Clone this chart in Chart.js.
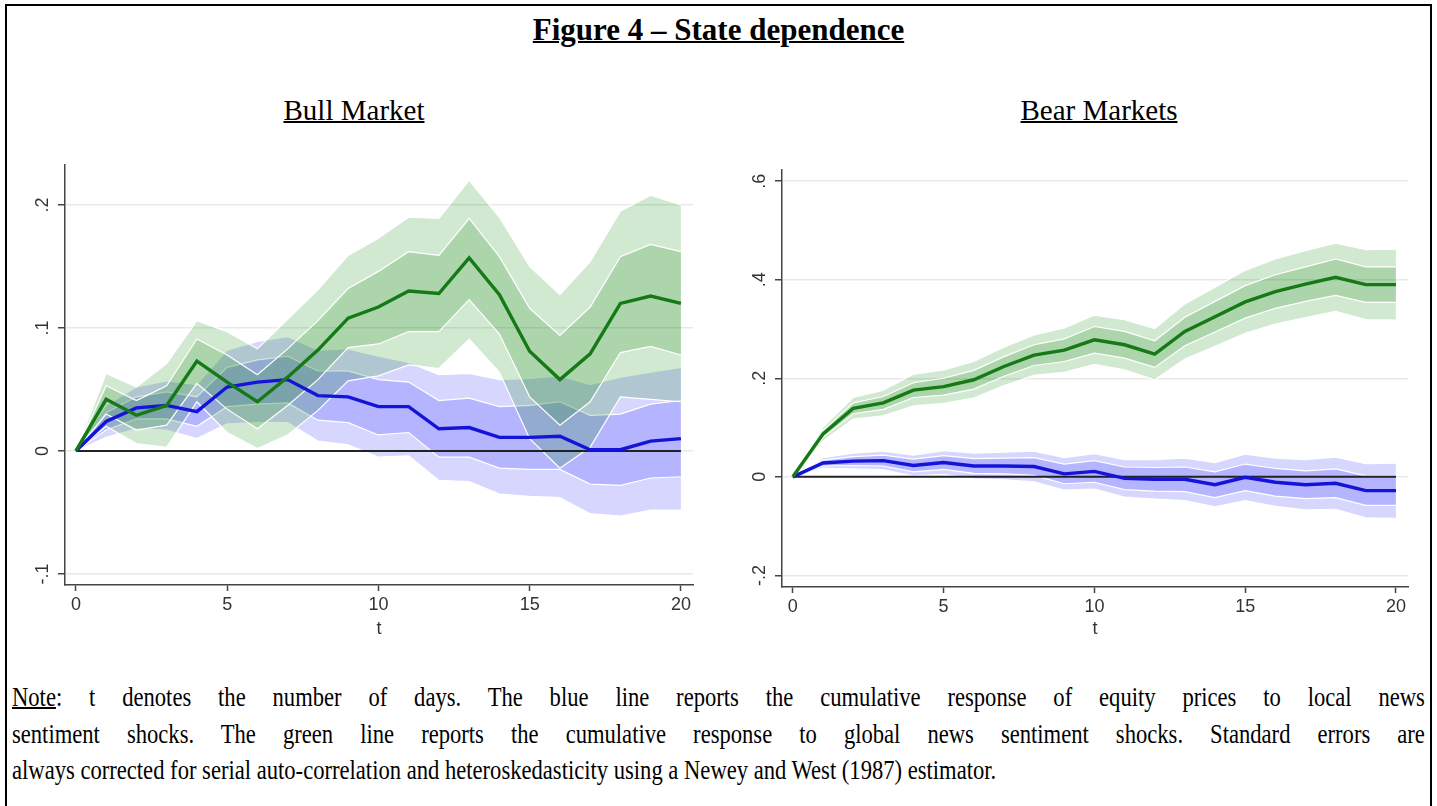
<!DOCTYPE html>
<html>
<head>
    <title>Figure 4 - State dependence</title>
    <style>
        body {
            margin: 0;
            width: 1437px;
            height: 806px;
            overflow: hidden;
            background: #fff;
            position: relative;
            font-family: 'Liberation Serif', 'Times New Roman', serif;
            color: #000;
        }
        .frame {
            position: absolute;
            left: 5px;
            top: 4px;
            width: 1423px;
            height: 900px;
            border: 2.5px solid #000;
        }
        .title {
            position: absolute;
            left: 0;
            width: 1437px;
            top: 14px;
            line-height: 31px;
            text-align: center;
            font-size: 31px;
            font-weight: bold;
            text-decoration: underline;
            text-decoration-thickness: 2px;
        }
        .sub {
            position: absolute;
            top: 96px;
            line-height: 29px;
            font-size: 29px;
            text-decoration: underline;
            text-decoration-thickness: 1.5px;
            transform: translateX(-50%);
            white-space: nowrap;
        }
        .chart-box {
            position: absolute;
            top: 150px;
        }
        /* the note is set in a narrow serif: scale a wider box down horizontally */
        .note {
            position: absolute;
            left: 12px;
            top: 679px;
            width: 1688px;
            font-size: 27px;
            line-height: 36.5px;
            transform: scaleX(0.837);
            transform-origin: 0 0;
        }
        .note div { white-space: nowrap; }
        .note .just {
            white-space: normal;
            text-align: justify;
            text-align-last: justify;
        }
        .note u { text-decoration-thickness: 1.5px; }
    </style>
    <script src="https://cdn.jsdelivr.net/npm/chart.js"></script>
</head>
<body>
    <div class="frame"></div>
    <div class="title">Figure 4 – State dependence</div>
    <div class="sub" style="left:354px">Bull Market</div>
    <div class="sub" style="left:1099px">Bear Markets</div>

    <div class="chart-box" style="left:20px">
        <canvas id="bull" width="680" height="490"></canvas>
    </div>
    <div class="chart-box" style="left:737px">
        <canvas id="bear" width="678" height="490"></canvas>
    </div>

    <div class="note">
        <div class="just"><u>Note</u>: t denotes the number of days. The blue line reports the cumulative response of equity prices to local news</div>
        <div class="just">sentiment shocks. The green line reports the cumulative response to global news sentiment shocks. Standard errors are</div>
        <div>always corrected for serial auto-correlation and heteroskedasticity using a Newey and West (1987) estimator.</div>
    </div>

    <script>
        // horizon in days
        const t = [0, 1, 2, 3, 4, 5, 6, 7, 8, 9, 10, 11, 12, 13, 14, 15, 16, 17, 18, 19, 20];
        const xTicks = [0, 5, 10, 15, 20];

        // Bull market: local news (blue) response and bands
        const bullLocal      = [0, .024, .035, .037, .032, .052, .056, .058, .045, .044, .036, .036, .018, .019, .011, .011, .012, .001, .001, .008, .010];
        const bullLocalInHi  = [0, .031, .044, .048, .044, .068, .074, .077, .065, .065, .058, .056, .041, .043, .036, .037, .040, .029, .030, .038, .041];
        const bullLocalInLo  = [0, .017, .026, .026, .020, .036, .038, .039, .025, .023, .013, .015, -.005, -.005, -.014, -.015, -.015, -.027, -.028, -.022, -.021];
        const bullLocalOutHi = [0, .037, .052, .057, .054, .082, .089, .093, .082, .083, .077, .072, .062, .063, .058, .059, .061, .054, .060, .064, .068];
        const bullLocalOutLo = [0, .011, .018, .017, .010, .022, .023, .023, .008, .005, -.005, -.004, -.024, -.025, -.035, -.037, -.038, -.051, -.053, -.048, -.048];

        // Bull market: global news (green) response and bands
        const bullGlobal      = [0, .042, .029, .037, .073, .056, .040, .060, .082, .108, .117, .130, .128, .157, .127, .081, .058, .079, .120, .126, .120];
        const bullGlobalInHi  = [0, .053, .041, .053, .091, .078, .062, .083, .106, .132, .146, .162, .159, .189, .158, .116, .094, .117, .158, .168, .162];
        const bullGlobalInLo  = [0, .030, .017, .021, .055, .034, .018, .037, .058, .084, .087, .097, .097, .123, .095, .044, .021, .040, .080, .085, .078];
        const bullGlobalOutHi = [0, .063, .052, .071, .106, .097, .083, .107, .131, .159, .173, .190, .189, .220, .190, .150, .127, .154, .195, .208, .200];
        const bullGlobalOutLo = [0, .020, .006, .003, .040, .015, .002, .013, .033, .057, .061, .070, .067, .091, .064, .010, -.014, .003, .044, .042, .040];

        // Bear markets: local news (blue)
        const bearLocal      = [0, .028, .032, .033, .023, .029, .022, .022, .021, .006, .011, -.003, -.005, -.005, -.016, -.001, -.011, -.016, -.013, -.028, -.028];
        const bearLocalInHi  = [0, .034, .041, .044, .036, .043, .037, .038, .039, .026, .033, .020, .019, .020, .010, .026, .017, .012, .016, .002, .002];
        const bearLocalInLo  = [0, .022, .023, .022, .010, .015, .007, .006, .003, -.014, -.011, -.026, -.029, -.030, -.042, -.028, -.039, -.044, -.042, -.058, -.058];
        const bearLocalOutHi = [0, .039, .048, .052, .044, .053, .048, .050, .052, .039, .047, .035, .035, .038, .029, .046, .038, .035, .040, .027, .028];
        const bearLocalOutLo = [0, .017, .016, .014, .002, .005, -.004, -.006, -.010, -.027, -.025, -.041, -.045, -.048, -.061, -.048, -.060, -.067, -.066, -.083, -.084];

        // Bear markets: global news (green)
        const bearGlobal      = [0, .087, .139, .150, .176, .183, .197, .224, .247, .257, .278, .268, .249, .295, .325, .355, .376, .391, .405, .390, .390];
        const bearGlobalInHi  = [0, .094, .150, .163, .191, .200, .216, .244, .268, .280, .305, .295, .276, .324, .356, .388, .410, .426, .442, .426, .426];
        const bearGlobalInLo  = [0, .080, .128, .137, .161, .166, .178, .204, .226, .234, .251, .241, .222, .266, .294, .322, .342, .356, .368, .354, .354];
        const bearGlobalOutHi = [0, .101, .161, .176, .208, .217, .234, .263, .288, .302, .328, .319, .301, .351, .385, .419, .442, .459, .474, .461, .462];
        const bearGlobalOutLo = [0, .073, .117, .124, .144, .149, .160, .185, .206, .212, .228, .217, .197, .239, .265, .291, .310, .323, .336, .319, .318];

        const bullYTicks = [-.1, 0, .1, .2];
        const bearYTicks = [-.2, 0, .2, .4, .6];

        const GREEN = '#157a15';
        const BLUE = '#1414d8';
        const GREEN_FILL = 'rgba(0, 128, 0, 0.18)';
        const BLUE_FILL = 'rgba(0, 0, 255, 0.16)';
        const AXIS = '#444';

        Chart.defaults.font.family = "'Liberation Sans', Arial, sans-serif";
        Chart.defaults.color = '#333';

        function pts(arr) {
            return t.map((v, i) => ({ x: v, y: arr[i] }));
        }

        // upper edge fills down to the dataset right after it
        function band(hi, lo, fillColor, order) {
            return [{
                data: pts(hi),
                borderColor: '#fff',
                borderWidth: 1.2,
                backgroundColor: fillColor,
                fill: '+1',
                pointRadius: 0,
                order: order
            }, {
                data: pts(lo),
                borderColor: '#fff',
                borderWidth: 1.2,
                fill: false,
                pointRadius: 0,
                order: order - 0.5
            }];
        }

        function line(arr, color, width, order) {
            return {
                data: pts(arr),
                borderColor: color,
                borderWidth: width,
                fill: false,
                pointRadius: 0,
                order: order
            };
        }

        function fmt(v) {
            if (v === 0) return '0';
            return v.toFixed(1).replace('0.', '.');
        }

        function options(yMin, yMax, yTicks, padTop, xHeight) {
            return {
                responsive: false,
                animation: false,
                layout: { padding: { top: padTop, right: 7, left: 0, bottom: 0 } },
                plugins: { legend: { display: false }, tooltip: { enabled: false } },
                scales: {
                    x: {
                        type: 'linear',
                        min: -0.36,
                        max: 20.4,
                        afterBuildTicks: s => { s.ticks = xTicks.map(v => ({ value: v })); },
                        afterFit: s => { s.height = xHeight; },
                        grid: { drawOnChartArea: false, tickLength: 6, tickColor: AXIS, tickWidth: 1.5 },
                        border: { display: true, color: AXIS, width: 1.5 },
                        ticks: { font: { size: 18 }, padding: 3, maxRotation: 0, color: '#333' },
                        title: { display: true, text: 't', font: { size: 18 }, padding: { top: -2, bottom: 0 }, color: '#333' }
                    },
                    y: {
                        type: 'linear',
                        min: yMin,
                        max: yMax,
                        afterBuildTicks: s => { s.ticks = yTicks.map(v => ({ value: v })); },
                        afterFit: s => { s.width = 45; },
                        grid: { color: '#e9e9e9', lineWidth: 1.5, tickLength: 7, tickColor: AXIS, tickWidth: 1.5 },
                        border: { display: true, color: AXIS, width: 1.5 },
                        ticks: {
                            font: { size: 18 },
                            color: '#333',
                            minRotation: 90,
                            maxRotation: 90,
                            crossAlign: 'center',
                            padding: 4,
                            callback: v => fmt(v)
                        }
                    }
                }
            };
        }

        const zeros = Array(t.length).fill(0);

        new Chart(document.getElementById('bull').getContext('2d'), {
            type: 'line',
            data: {
                datasets: [
                    ...band(bullLocalOutHi, bullLocalOutLo, BLUE_FILL, 10),
                    ...band(bullLocalInHi, bullLocalInLo, BLUE_FILL, 9),
                    ...band(bullGlobalOutHi, bullGlobalOutLo, GREEN_FILL, 8),
                    ...band(bullGlobalInHi, bullGlobalInLo, GREEN_FILL, 7),
                    line(zeros, '#222', 2, 3),
                    line(bullLocal, BLUE, 3.4, 2),
                    line(bullGlobal, GREEN, 3.4, 1)
                ]
            },
            options: options(-0.109, 0.2325, bullYTicks, 15, 55)
        });

        new Chart(document.getElementById('bear').getContext('2d'), {
            type: 'line',
            data: {
                datasets: [
                    ...band(bearLocalOutHi, bearLocalOutLo, BLUE_FILL, 10),
                    ...band(bearLocalInHi, bearLocalInLo, BLUE_FILL, 9),
                    ...band(bearGlobalOutHi, bearGlobalOutLo, GREEN_FILL, 8),
                    ...band(bearGlobalInHi, bearGlobalInLo, GREEN_FILL, 7),
                    line(zeros, '#222', 2, 3),
                    line(bearLocal, BLUE, 3.4, 2),
                    line(bearGlobal, GREEN, 3.4, 1)
                ]
            },
            options: options(-0.2235, 0.6226, bearYTicks, 20, 53)
        });
    </script>
</body>
</html>
